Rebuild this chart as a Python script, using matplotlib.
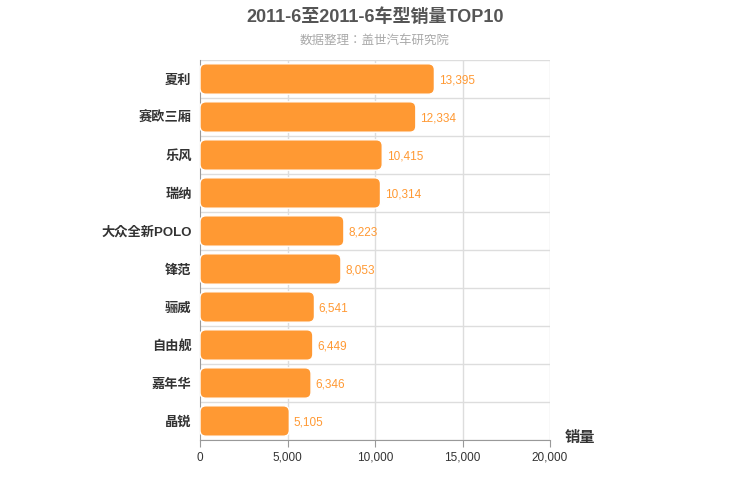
import matplotlib.pyplot as plt
from matplotlib import font_manager
from matplotlib.patches import FancyBboxPatch

# Latin in an Arial-like face, CJK glyphs fall back to whichever Noto CJK is cached
names = {f.name for f in font_manager.fontManager.ttflist}
cjk = [n for n in ["Noto Sans CJK SC", "Noto Sans CJK JP", "Noto Sans CJK TC",
                   "Noto Sans CJK KR", "Noto Sans SC"] if n in names]
cjk += [n for n in sorted(names) if "CJK" in n]
plt.rcParams["font.family"] = ["Liberation Sans"] + cjk + ["DejaVu Sans"]

models = ["夏利", "赛欧三厢", "乐风", "瑞纳", "大众全新POLO", "锋范", "骊威", "自由舰", "嘉年华", "晶锐"]
sales = [13395, 12334, 10415, 10314, 8223, 8053, 6541, 6449, 6346, 5105]
xticks = [0, 5000, 10000, 15000, 20000]

BAR_COLOR = "#FF9933"

fig = plt.figure(figsize=(7.5, 5), dpi=100)
ax = fig.add_axes([200 / 750, 60 / 500, 350 / 750, 380 / 500])

n = len(models)
ax.set_xlim(0, 20000)
ax.set_ylim(n - 0.5, -0.5)

# px -> data scale for rounded corners
x_per_px = 20000 / 350
y_per_px = n / 380
for i, v in enumerate(sales):
    h = 0.8
    patch = FancyBboxPatch(
        (0, i - h / 2), v, h,
        boxstyle=f"round,pad=0,rounding_size={6 * x_per_px}",
        mutation_aspect=y_per_px / x_per_px,
        facecolor=BAR_COLOR, edgecolor="white", linewidth=1, zorder=3,
    )
    ax.add_patch(patch)
    ax.text(v + 250, i + 0.05, f"{v:,}", color=BAR_COLOR, fontsize=8.5,
            va="center", ha="left", zorder=4)

for x in xticks[1:]:
    ax.axvline(x, color="#dddddd", linewidth=1, zorder=1)
for b in range(n + 1):
    ax.axhline(b - 0.5, color="#dddddd", linewidth=1, zorder=1)

ax.set_xticks(xticks)
ax.set_xticklabels([f"{x:,}" for x in xticks], fontsize=8.5, color="#333333")
ax.set_yticks(range(n))
ax.set_yticklabels(models, fontsize=9.5, fontweight="bold", color="#333333")
ax.tick_params(axis="y", length=0, pad=6)
ax.tick_params(axis="x", length=5, color="#999999")
for side in ["top", "right"]:
    ax.spines[side].set_visible(False)
ax.spines["left"].set_color("#999999")
ax.spines["bottom"].set_color("#999999")

fig.text(0.5, 1 - 17 / 500, "2011-6至2011-6车型销量TOP10", ha="center", va="center",
         fontsize=13, fontweight="bold", color="#555555")
fig.text(0.5, 1 - 41 / 500, "数据整理：盖世汽车研究院", ha="center", va="center",
         fontsize=9, color="#aaaaaa")
fig.text(580 / 750, 1 - 438 / 500, "销量", ha="center", va="center",
         fontsize=11, fontweight="bold", color="#333333")

fig.savefig("out.png", dpi=100)
